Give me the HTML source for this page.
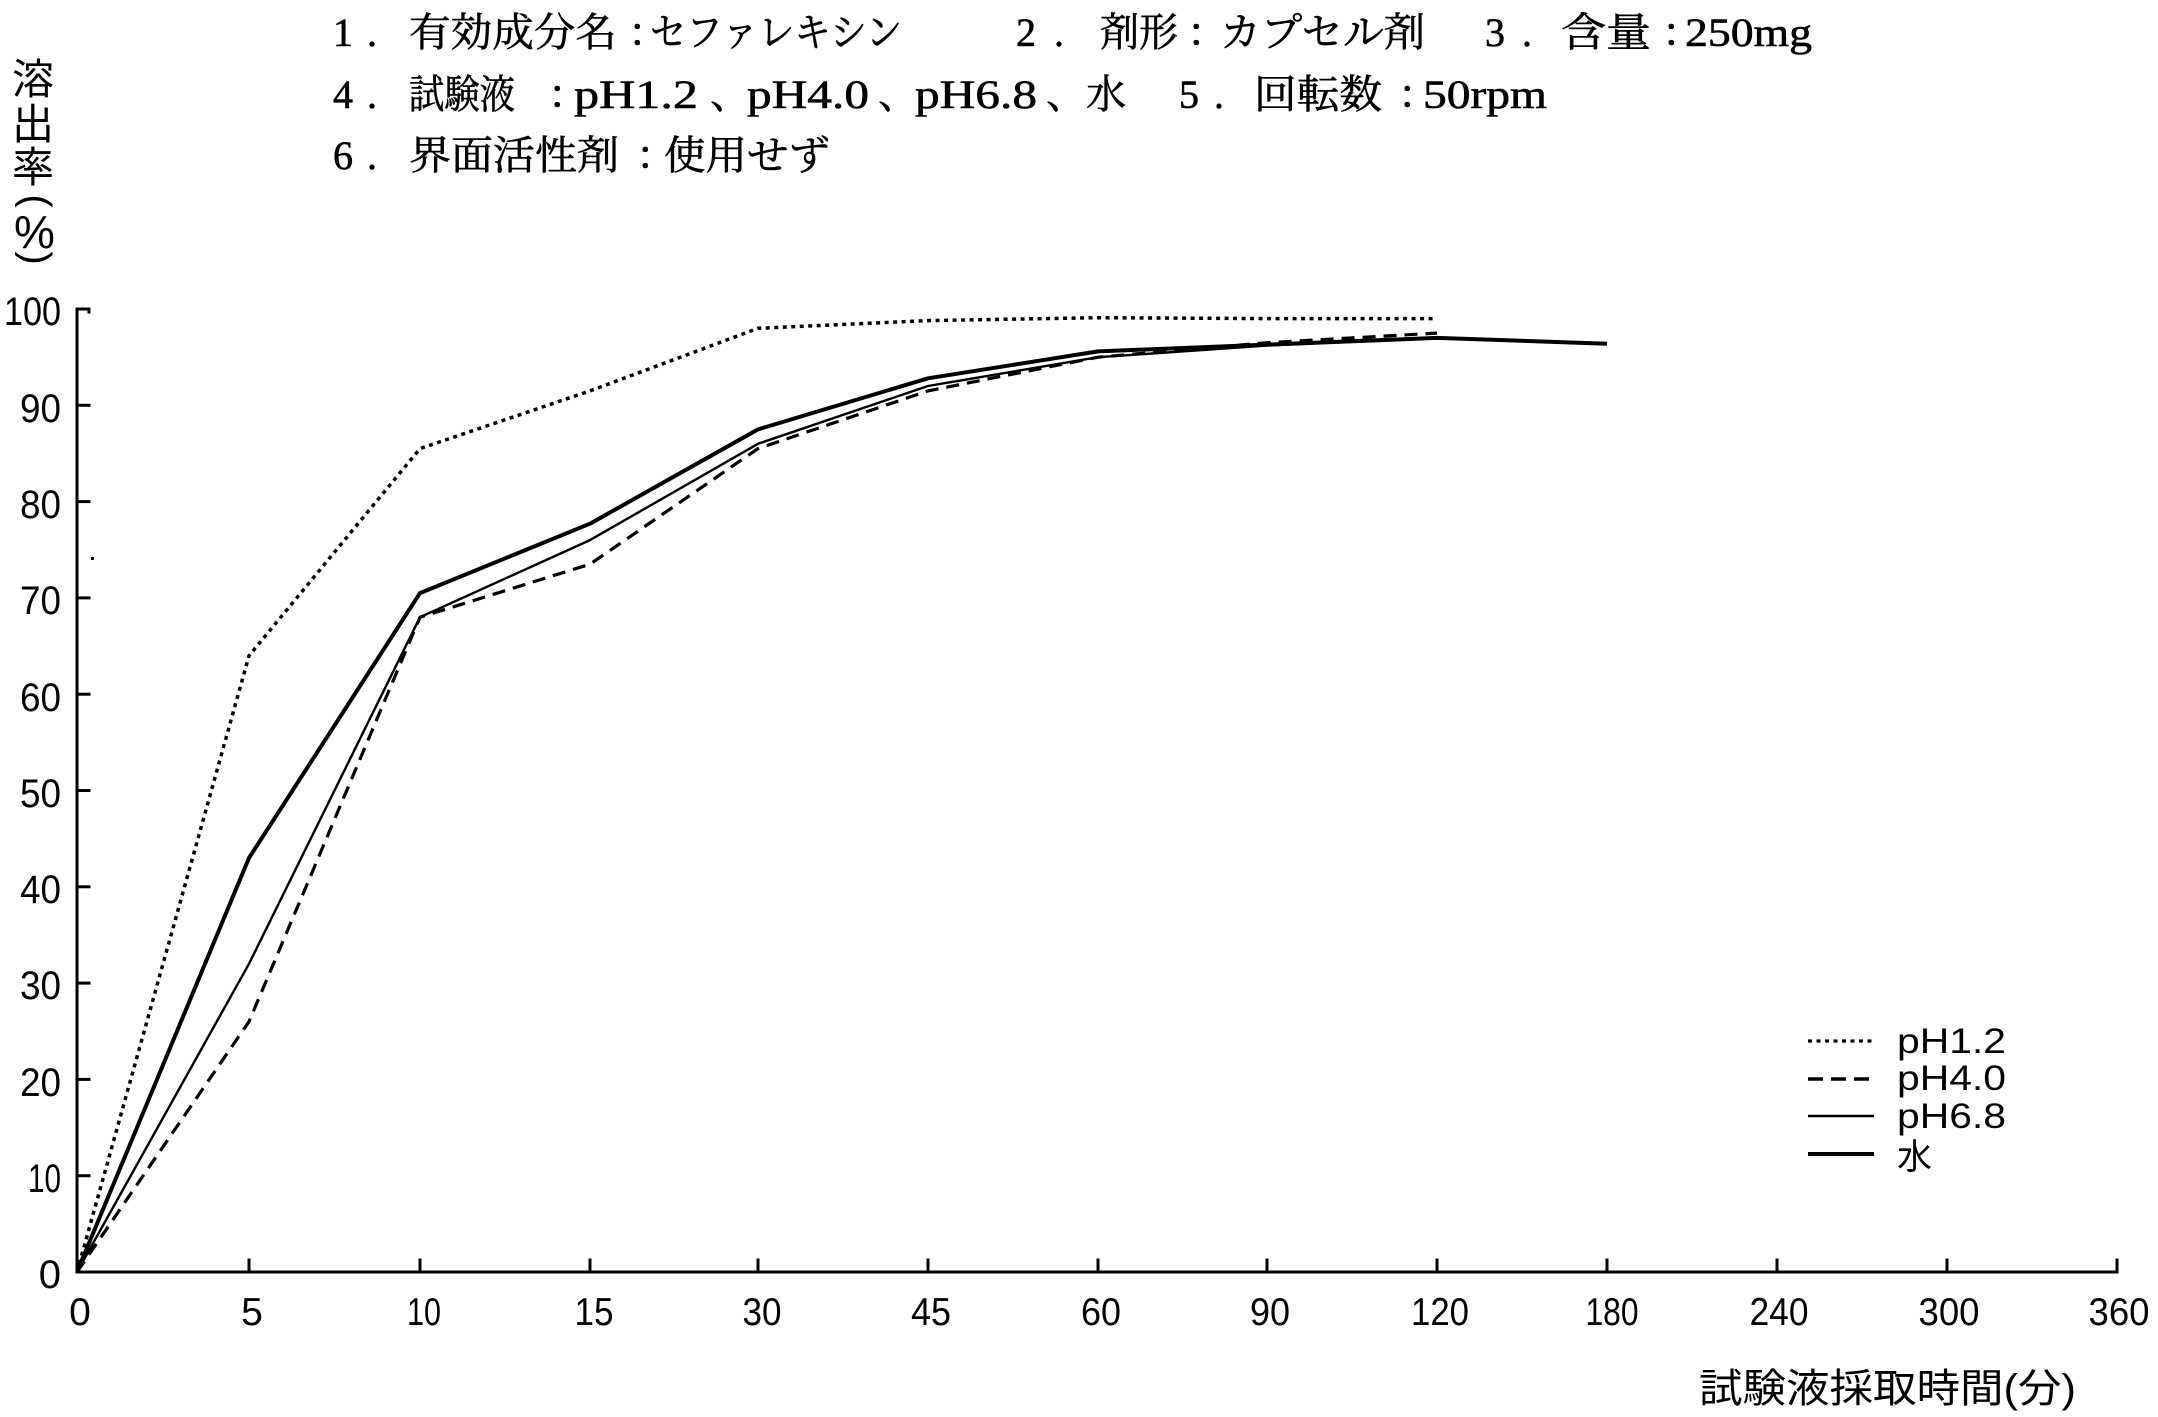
<!DOCTYPE html>
<html lang="ja">
<head>
<meta charset="utf-8">
<style>
  html, body { margin:0; padding:0; background:#fff; }
  svg { display:block; }
  .ser { font-family: "Liberation Serif", "Noto Serif CJK SC", serif; }
  .san { font-family: "Liberation Sans", "Noto Sans CJK JP", sans-serif; }
</style>
</head>
<body>
<svg width="2158" height="1417" viewBox="0 0 2158 1417" xmlns="http://www.w3.org/2000/svg">
  <rect width="2158" height="1417" fill="#fff"/>

  <!-- Title block -->
  <g class="ser" font-size="40" fill="#000" stroke="#000" stroke-width="0.6">
    <!-- line 1 -->
    <text x="333" y="46">1</text>
    <text x="367" y="46">.</text>
    <text x="409" y="46" textLength="208" lengthAdjust="spacingAndGlyphs">有効成分名</text>
    <text x="628" y="46">：</text>
    <text x="650" y="46" textLength="252" lengthAdjust="spacingAndGlyphs">セファレキシン</text>
    <text x="1016" y="46">2</text>
    <text x="1054" y="46">.</text>
    <text x="1100" y="46" textLength="78" lengthAdjust="spacingAndGlyphs">剤形</text>
    <text x="1187" y="46">：</text>
    <text x="1220" y="46" textLength="205" lengthAdjust="spacingAndGlyphs">カプセル剤</text>
    <text x="1485" y="46">3</text>
    <text x="1522" y="46">.</text>
    <text x="1561" y="46" textLength="90" lengthAdjust="spacingAndGlyphs">含量</text>
    <text x="1662" y="46">：</text>
    <text x="1685" y="46" textLength="127" lengthAdjust="spacingAndGlyphs">250mg</text>
    <!-- line 2 -->
    <text x="333" y="108">4</text>
    <text x="367" y="108">.</text>
    <text x="409" y="108" textLength="106" lengthAdjust="spacingAndGlyphs">試験液</text>
    <text x="548" y="108">：</text>
    <text x="574" y="108" textLength="124" lengthAdjust="spacingAndGlyphs">pH1.2</text>
    <text x="710" y="108">、</text>
    <text x="747" y="108" textLength="122" lengthAdjust="spacingAndGlyphs">pH4.0</text>
    <text x="878" y="108">、</text>
    <text x="915" y="108" textLength="122" lengthAdjust="spacingAndGlyphs">pH6.8</text>
    <text x="1046" y="108">、</text>
    <text x="1086" y="108">水</text>
    <text x="1179" y="108">5</text>
    <text x="1214" y="108">.</text>
    <text x="1254" y="108" textLength="128" lengthAdjust="spacingAndGlyphs">回転数</text>
    <text x="1398" y="108">：</text>
    <text x="1423" y="108" textLength="124" lengthAdjust="spacingAndGlyphs">50rpm</text>
    <!-- line 3 -->
    <text x="333" y="169">6</text>
    <text x="367" y="169">.</text>
    <text x="409" y="169" textLength="210" lengthAdjust="spacingAndGlyphs">界面活性剤</text>
    <text x="636" y="169">：</text>
    <text x="664" y="169" textLength="166" lengthAdjust="spacingAndGlyphs">使用せず</text>
  </g>

  <!-- Y-axis title (vertical) -->
  <g class="san" fill="#000">
    <text x="33" y="94" font-size="42" text-anchor="middle">溶</text>
    <text x="33" y="139" font-size="42" text-anchor="middle">出</text>
    <text x="33" y="182" font-size="42" text-anchor="middle">率</text>
    <text x="0" y="0" font-size="40" text-anchor="middle" dy="0.26em" transform="translate(34,201) rotate(90)">(</text>
    <text x="34.5" y="248" font-size="46" text-anchor="middle">%</text>
    <text x="0" y="0" font-size="40" text-anchor="middle" dy="0.26em" transform="translate(34,258) rotate(90)">)</text>
  </g>

  <!-- Axes -->
  <g stroke="#000" stroke-width="3" fill="none" stroke-linecap="square">
    <line x1="77" y1="309" x2="77" y2="1272"/>
    <line x1="77" y1="1272" x2="2117" y2="1272"/>
    <!-- y ticks -->
    <line x1="77" y1="309" x2="89" y2="309"/>
    <line x1="89" y1="309" x2="89" y2="312"/>
    <line x1="77" y1="405.3" x2="89" y2="405.3"/>
    <line x1="77" y1="501.6" x2="89" y2="501.6"/>
    <line x1="77" y1="597.9" x2="89" y2="597.9"/>
    <line x1="77" y1="694.2" x2="89" y2="694.2"/>
    <line x1="77" y1="790.5" x2="89" y2="790.5"/>
    <line x1="77" y1="886.8" x2="89" y2="886.8"/>
    <line x1="77" y1="983.1" x2="89" y2="983.1"/>
    <line x1="77" y1="1079.4" x2="89" y2="1079.4"/>
    <line x1="77" y1="1175.7" x2="89" y2="1175.7"/>
    <!-- x ticks -->
    <line x1="249" y1="1260" x2="249" y2="1272"/>
    <line x1="420" y1="1260" x2="420" y2="1272"/>
    <line x1="590" y1="1260" x2="590" y2="1272"/>
    <line x1="758" y1="1260" x2="758" y2="1272"/>
    <line x1="928" y1="1260" x2="928" y2="1272"/>
    <line x1="1098" y1="1260" x2="1098" y2="1272"/>
    <line x1="1267" y1="1260" x2="1267" y2="1272"/>
    <line x1="1437" y1="1260" x2="1437" y2="1272"/>
    <line x1="1607" y1="1260" x2="1607" y2="1272"/>
    <line x1="1777" y1="1260" x2="1777" y2="1272"/>
    <line x1="1947" y1="1260" x2="1947" y2="1272"/>
    <line x1="2117" y1="1260" x2="2117" y2="1272"/>
  </g>
  <rect x="91" y="557" width="3" height="3" fill="#000"/>

  <!-- Y tick labels -->
  <g class="san" font-size="40" fill="#000" text-anchor="end">
    <text x="61" y="325" textLength="57" lengthAdjust="spacingAndGlyphs">100</text>
    <text x="61" y="422" textLength="41" lengthAdjust="spacingAndGlyphs">90</text>
    <text x="61" y="518" textLength="41" lengthAdjust="spacingAndGlyphs">80</text>
    <text x="61" y="614" textLength="41" lengthAdjust="spacingAndGlyphs">70</text>
    <text x="61" y="711" textLength="41" lengthAdjust="spacingAndGlyphs">60</text>
    <text x="61" y="807" textLength="41" lengthAdjust="spacingAndGlyphs">50</text>
    <text x="61" y="903" textLength="41" lengthAdjust="spacingAndGlyphs">40</text>
    <text x="61" y="999" textLength="41" lengthAdjust="spacingAndGlyphs">30</text>
    <text x="61" y="1096" textLength="41" lengthAdjust="spacingAndGlyphs">20</text>
    <text x="61" y="1192" textLength="33" lengthAdjust="spacingAndGlyphs">10</text>
    <text x="61" y="1288">0</text>
  </g>

  <!-- X tick labels -->
  <g class="san" font-size="39" fill="#000" text-anchor="middle">
    <text x="80" y="1325">0</text>
    <text x="252" y="1325">5</text>
    <text x="424" y="1325" textLength="34" lengthAdjust="spacingAndGlyphs">10</text>
    <text x="594" y="1325" textLength="39" lengthAdjust="spacingAndGlyphs">15</text>
    <text x="762" y="1325" textLength="39" lengthAdjust="spacingAndGlyphs">30</text>
    <text x="931" y="1325" textLength="40" lengthAdjust="spacingAndGlyphs">45</text>
    <text x="1101" y="1325" textLength="40" lengthAdjust="spacingAndGlyphs">60</text>
    <text x="1270" y="1325" textLength="40" lengthAdjust="spacingAndGlyphs">90</text>
    <text x="1440" y="1325" textLength="58" lengthAdjust="spacingAndGlyphs">120</text>
    <text x="1612" y="1325" textLength="53" lengthAdjust="spacingAndGlyphs">180</text>
    <text x="1779" y="1325" textLength="59" lengthAdjust="spacingAndGlyphs">240</text>
    <text x="1949" y="1325" textLength="61" lengthAdjust="spacingAndGlyphs">300</text>
    <text x="2119" y="1325" textLength="61" lengthAdjust="spacingAndGlyphs">360</text>
  </g>

  <!-- X axis title -->
  <text class="san" x="1699" y="1402" font-size="40" fill="#000" textLength="377" lengthAdjust="spacingAndGlyphs">試験液採取時間(分)</text>

  <!-- Series -->
  <g fill="none" stroke="#000" stroke-linejoin="round">
    <!-- pH1.2 dotted -->
    <polyline stroke-width="3.5" stroke-dasharray="4 4.5"
      points="77,1272 249,655.7 420,448.6 590,390.9 758,328.3 928,320.6 1098,317.7 1267,318.6 1437,318.6"/>
    <!-- pH4.0 dashed -->
    <polyline stroke-width="3.2" stroke-dasharray="13 8"
      points="77,1272 249,1021.6 420,617.2 590,564.2 758,448.6 928,390.9 1098,357.2 1267,342.7 1437,333.1"/>
    <!-- pH6.8 thin solid -->
    <polyline stroke-width="2.4"
      points="77,1272 249,963.8 420,617.2 590,540.1 758,443.8 928,386.0 1098,357.2 1267,345.6 1437,337.9 1607,343.7"/>
    <!-- water thick solid -->
    <polyline stroke-width="4"
      points="77,1272 249,857.9 420,593.1 590,523.7 758,429.4 928,378.3 1098,351.4 1267,344.6 1437,337.9 1607,343.7"/>
  </g>

  <!-- Legend -->
  <g fill="none" stroke="#000">
    <line x1="1808" y1="1041" x2="1874" y2="1041" stroke-width="3.2" stroke-dasharray="4 4.5"/>
    <line x1="1808" y1="1079" x2="1871" y2="1079" stroke-width="3.5" stroke-dasharray="15 8"/>
    <line x1="1808" y1="1116" x2="1874" y2="1116" stroke-width="2.5"/>
    <line x1="1808" y1="1154" x2="1874" y2="1154" stroke-width="4"/>
  </g>
  <g class="san" font-size="35" fill="#000">
    <text x="1897" y="1053" textLength="109" lengthAdjust="spacingAndGlyphs">pH1.2</text>
    <text x="1897" y="1090" textLength="109" lengthAdjust="spacingAndGlyphs">pH4.0</text>
    <text x="1897" y="1128" textLength="109" lengthAdjust="spacingAndGlyphs">pH6.8</text>
    <text x="1897" y="1169">水</text>
  </g>
</svg>
</body>
</html>
